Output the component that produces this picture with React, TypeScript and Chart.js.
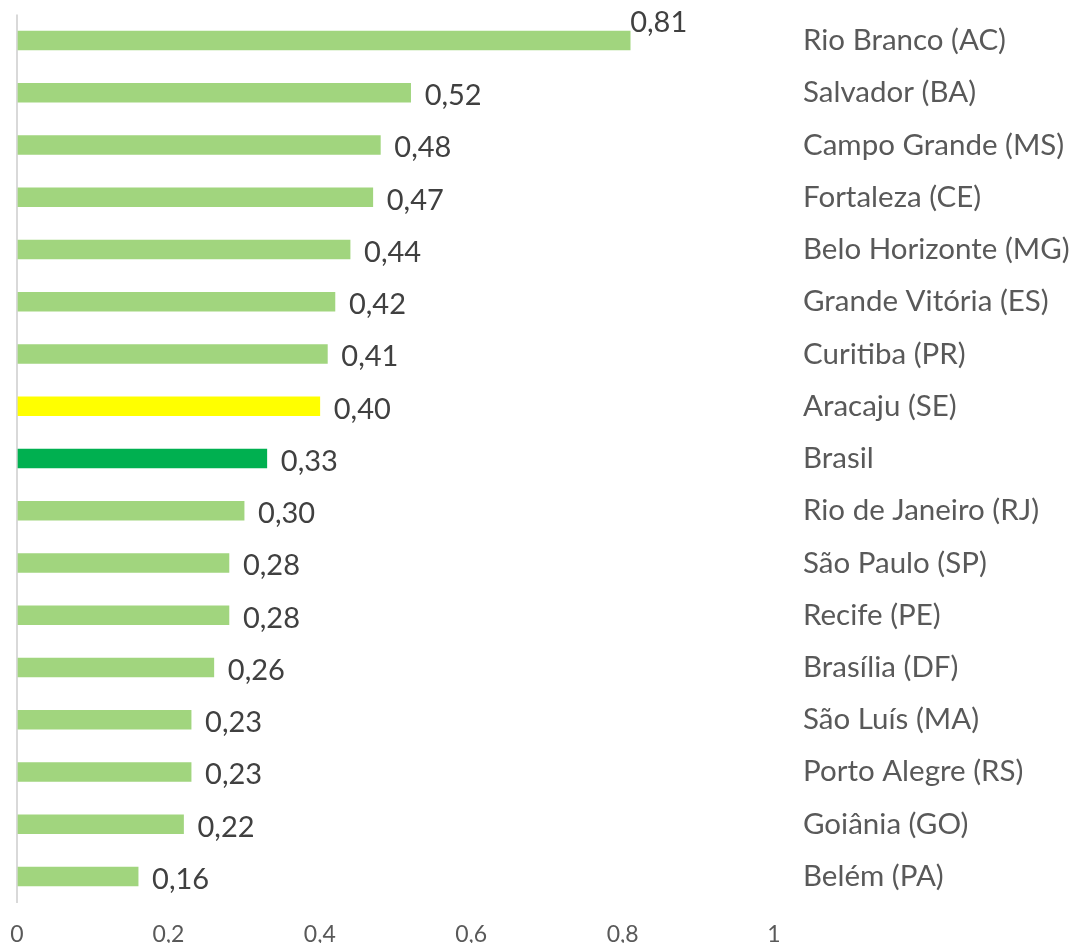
import { useEffect, useRef } from 'react';
import { Chart, registerables } from 'chart.js';

Chart.register(...registerables);

const categories = [
  'Rio Branco (AC)',
  'Salvador (BA)',
  'Campo Grande (MS)',
  'Fortaleza (CE)',
  'Belo Horizonte (MG)',
  'Grande Vitória (ES)',
  'Curitiba (PR)',
  'Aracaju (SE)',
  'Brasil',
  'Rio de Janeiro (RJ)',
  'São Paulo (SP)',
  'Recife (PE)',
  'Brasília (DF)',
  'São Luís (MA)',
  'Porto Alegre (RS)',
  'Goiânia (GO)',
  'Belém (PA)',
];

const values = [0.81, 0.52, 0.48, 0.47, 0.44, 0.42, 0.41, 0.4, 0.33, 0.3, 0.28, 0.28, 0.26, 0.23, 0.23, 0.22, 0.16];

const xTickValues = [0, 0.2, 0.4, 0.6, 0.8, 1];

const highlightYellow = 'Aracaju (SE)';
const highlightGreen = 'Brasil';

const FONT = 'Lato';

const fmtTick = (v: number) => Number(v.toFixed(1)).toString().replace('.', ',');
const fmtValue = (v: number) => v.toFixed(2).replace('.', ',');

const dataLabelPlugin = {
  id: 'dataLabels',
  afterDatasetsDraw(chart: any) {
    const ctx = chart.ctx;
    const meta = chart.getDatasetMeta(0);
    ctx.save();
    ctx.font = `29px ${FONT}`;
    ctx.fillStyle = '#404040';
    ctx.textBaseline = 'middle';
    ctx.textAlign = 'left';
    meta.data.forEach((bar: any, i: number) => {
      const text = fmtValue(values[i]);
      const raised = i === 0;
      const x = raised ? bar.x : bar.x + 14;
      const y = raised ? bar.y - 18 : bar.y + 3;
      ctx.fillText(text, x, y);
    });
    ctx.restore();
  },
};

const zeroPadding = (scale: any) => {
  scale.paddingTop = 0;
  scale.paddingBottom = 0;
  scale.paddingLeft = 0;
  scale.paddingRight = 0;
};

export default function App() {
  const canvasRef = useRef<HTMLCanvasElement | null>(null);

  useEffect(() => {
    if (!canvasRef.current) return;
    const colors = categories.map((c) =>
      c === highlightYellow ? '#FFFF00' : c === highlightGreen ? '#00B050' : '#A1D57E'
    );
    const chart = new Chart(canvasRef.current, {
      type: 'bar',
      data: {
        labels: categories,
        datasets: [
          {
            data: values,
            backgroundColor: colors,
            borderWidth: 0,
            barThickness: 19,
          },
        ],
      },
      plugins: [dataLabelPlugin],
      options: {
        indexAxis: 'y',
        animation: false,
        responsive: true,
        maintainAspectRatio: false,
        layout: { padding: { left: 17, top: 14.4, right: 0, bottom: 0 } },
        plugins: {
          legend: { display: false },
          tooltip: { enabled: false },
          title: { display: false },
        },
        scales: {
          x: {
            type: 'linear',
            min: 0,
            max: 1,
            afterBuildTicks: (scale: any) => {
              scale.ticks = xTickValues.map((v) => ({ value: v }));
            },
            afterFit: (scale: any) => {
              scale.height = 40.4;
              zeroPadding(scale);
            },
            ticks: {
              callback: (v: any) => fmtTick(Number(v)),
              color: '#595959',
              font: { family: FONT, size: 23 },
              padding: 18,
              maxRotation: 0,
            },
            grid: {
              display: true,
              drawTicks: false,
              lineWidth: 2,
              color: (ctx: any) => (ctx.tick && ctx.tick.value === 0 ? '#D9D9D9' : 'rgba(0,0,0,0)'),
            },
            border: { display: false },
          },
          y: {
            position: 'right',
            afterFit: (scale: any) => {
              scale.width = 302;
              zeroPadding(scale);
            },
            ticks: {
              color: '#595959',
              font: { family: FONT, size: 29.5 },
              padding: 29,
              crossAlign: 'near',
              autoSkip: false,
            },
            grid: { display: false, drawTicks: false },
            border: { display: false },
          },
        },
      },
    } as any);
    return () => chart.destroy();
  }, []);

  return (
    <div style={{ position: 'fixed', left: 0, top: 0, width: 1076, height: 943, background: '#fff' }}>
      <canvas ref={canvasRef} style={{ width: '100%', height: '100%' }} />
    </div>
  );
}
